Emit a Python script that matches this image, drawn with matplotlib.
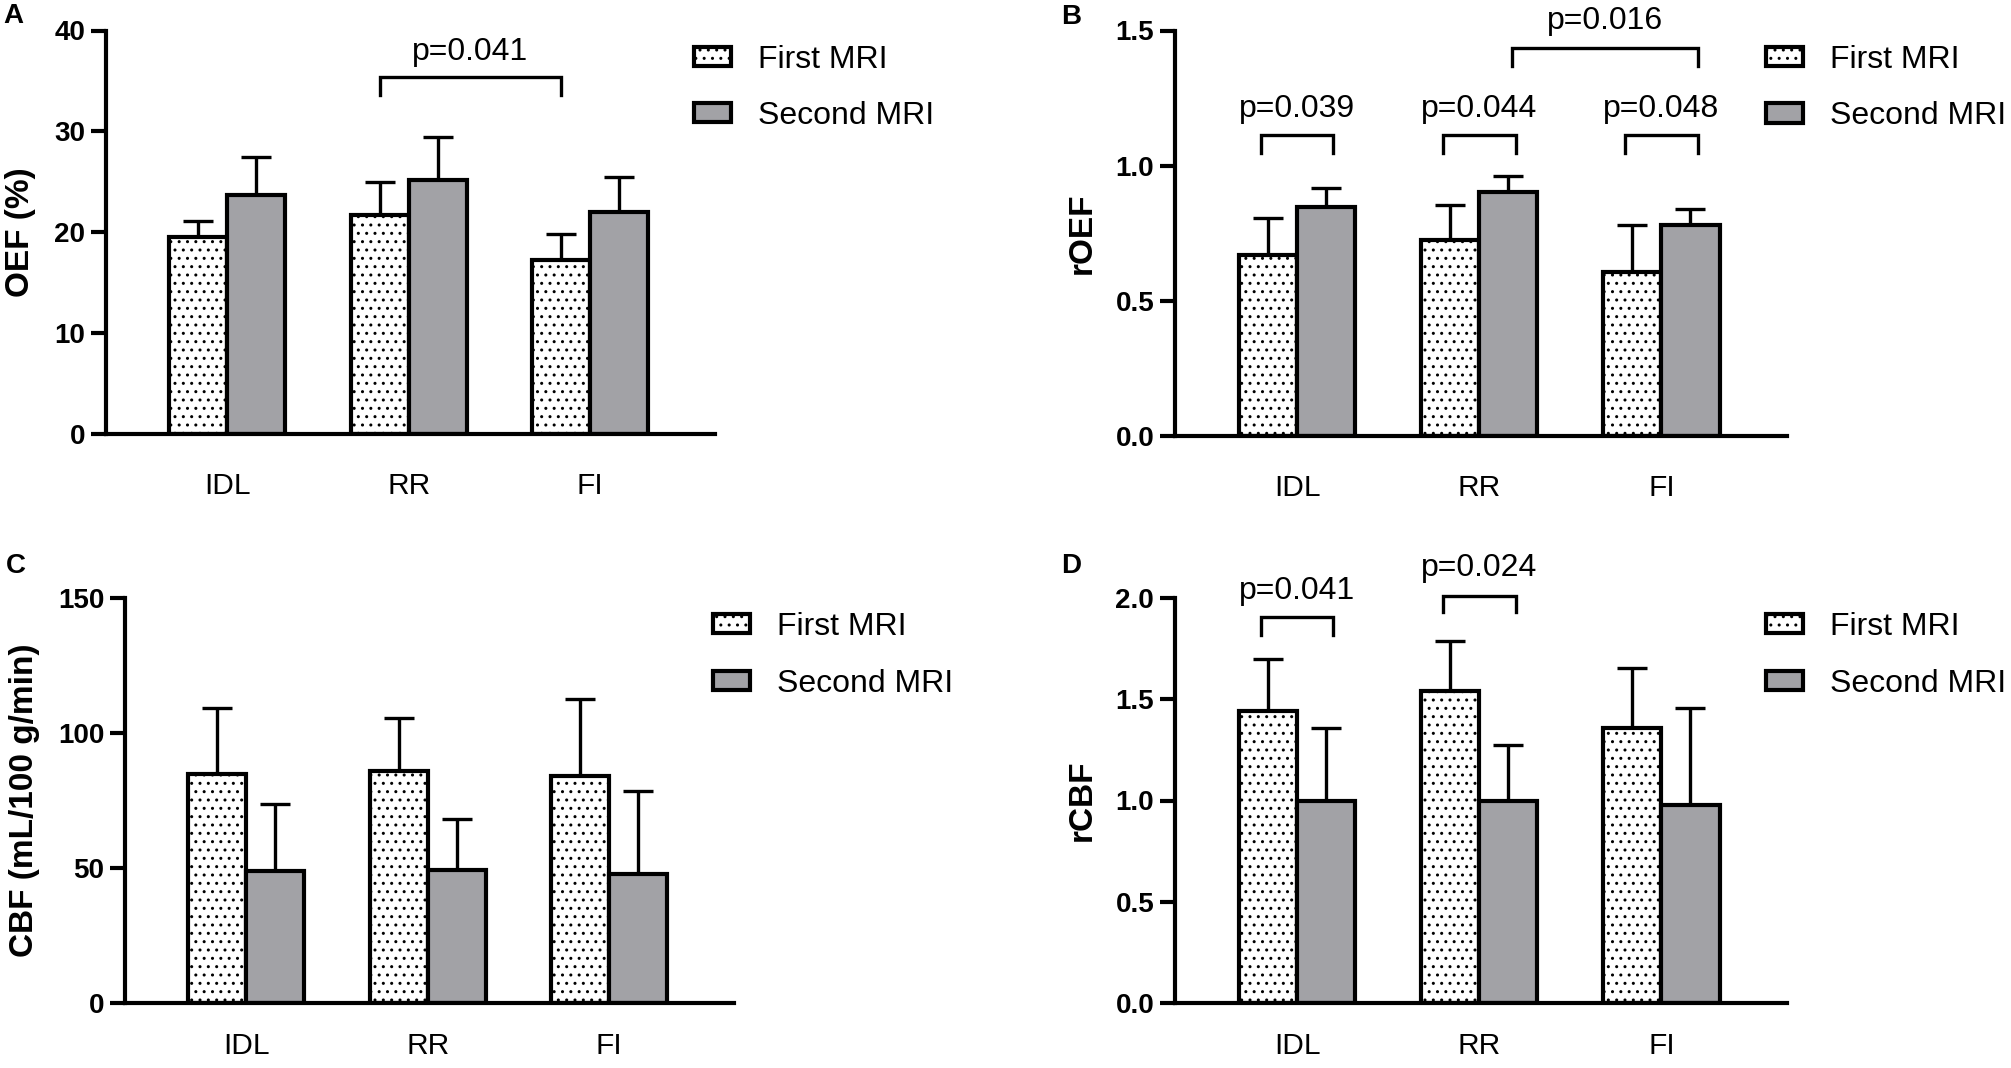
import numpy as np
import matplotlib
matplotlib.use('Agg')
import matplotlib.pyplot as plt
from matplotlib.patches import Patch

plt.rcParams.update({'font.family': 'Liberation Sans', 'hatch.linewidth': 1.0,
                     'hatch.color': 'black', 'figure.facecolor': 'white'})
GRAY = '#a2a2a6'
LW = 3.0

groups = ['IDL', 'RR', 'FI']
series = ['First MRI', 'Second MRI']

# A. OEF (%)
oef_first = [19.5, 21.7, 17.2]
oef_first_sd = [1.6, 3.3, 2.6]
oef_second = [23.7, 25.2, 22.0]
oef_second_sd = [3.8, 4.2, 3.5]

# B. rOEF
roef_first = [0.67, 0.725, 0.605]
roef_first_sd = [0.135, 0.13, 0.175]
roef_second = [0.847, 0.904, 0.782]
roef_second_sd = [0.07, 0.056, 0.058]

# C. CBF (mL/100 g/min)
cbf_first = [85.0, 86.0, 84.0]
cbf_first_sd = [24.1, 19.4, 28.5]
cbf_second = [49.0, 49.3, 47.8]
cbf_second_sd = [24.8, 18.7, 30.8]

# D. rCBF
rcbf_first = [1.44, 1.54, 1.356]
rcbf_first_sd = [0.26, 0.25, 0.30]
rcbf_second = [1.0, 1.0, 0.98]
rcbf_second_sd = [0.36, 0.275, 0.475]

W, H = 2011, 1068


def rect(left, right, top, bottom):
    return [left / W, 1 - bottom / H, (right - left) / W, (bottom - top) / H]


def draw_panel(ax, first, first_sd, second, second_sd, ymax, yticks, ylabel, xpad):
    x = np.arange(len(groups))
    w = 0.32
    for off, vals, sd, fc, hatch in [(-w / 2, first, first_sd, 'white', '..'),
                                     (w / 2, second, second_sd, GRAY, None)]:
        ax.errorbar(x + off, vals, yerr=[np.zeros(len(vals)), sd], fmt='none', ecolor='black',
                    elinewidth=2.4, capsize=11, capthick=2.4, zorder=1)
        ax.bar(x + off, vals, width=w, color=fc, edgecolor='black', linewidth=LW,
               hatch=hatch, zorder=2)
    ax.set_xlim(-0.67, 2.69)
    ax.set_ylim(0, ymax)
    ax.set_yticks(yticks)
    ax.set_xticks(x, groups)
    for s in ['top', 'right']:
        ax.spines[s].set_visible(False)
    for s in ['left', 'bottom']:
        ax.spines[s].set_linewidth(LW)
    ax.tick_params(axis='y', direction='out', length=11, width=LW, labelsize=20, pad=4)
    ax.tick_params(axis='x', length=0, pad=xpad, labelsize=21.5)
    for lbl in ax.get_yticklabels():
        lbl.set_fontweight('bold')
    ax.set_ylabel(ylabel, fontsize=24, fontweight='bold', labelpad=13)
    handles = [Patch(facecolor='white', edgecolor='black', hatch='..', linewidth=LW),
               Patch(facecolor=GRAY, edgecolor='black', linewidth=LW)]
    ax.legend(handles, series, loc='upper left', bbox_to_anchor=(0.9655, 0.965), frameon=False,
              fontsize=23, borderpad=0, borderaxespad=0, handlelength=1.15, handleheight=0.55,
              handletextpad=0.85, labelspacing=0.83)


def bracket(ax, x0, x1, y, leg, ty, label):
    ax.plot([x0, x0, x1, x1], [y - leg, y, y, y - leg], color='black', lw=2.4,
            clip_on=False, solid_joinstyle='miter')
    ax.text((x0 + x1) / 2, ty, label, ha='center', va='baseline', fontsize=23, clip_on=False)


fig = plt.figure(figsize=(W / 100, H / 100), dpi=100)
axA = fig.add_axes(rect(106, 715, 30.5, 434))
axB = fig.add_axes(rect(1175, 1787, 30.5, 436))
axC = fig.add_axes(rect(125, 734, 598, 1003))
axD = fig.add_axes(rect(1175, 1787, 598, 1003))

draw_panel(axA, oef_first, oef_first_sd, oef_second, oef_second_sd, 40, [0, 10, 20, 30, 40],
           'OEF (%)', 27)
draw_panel(axB, roef_first, roef_first_sd, roef_second, roef_second_sd, 1.5, [0.0, 0.5, 1.0, 1.5],
           'rOEF', 27)
draw_panel(axC, cbf_first, cbf_first_sd, cbf_second, cbf_second_sd, 150, [0, 50, 100, 150],
           'CBF (mL/100 g/min)', 21)
draw_panel(axD, rcbf_first, rcbf_first_sd, rcbf_second, rcbf_second_sd, 2.0, [0.0, 0.5, 1.0, 1.5, 2.0],
           'rCBF', 21)

# significance brackets
bracket(axA, 1 - 0.16, 2 - 0.16, 35.4, 1.8, 37.1, 'p=0.041')
for i, p in enumerate(['p=0.039', 'p=0.044', 'p=0.048']):
    bracket(axB, i - 0.2, i + 0.2, 1.115, 0.067, 1.181, p)
bracket(axB, 1.18, 2.2, 1.437, 0.07, 1.506, 'p=0.016')
bracket(axD, -0.2, 0.2, 1.907, 0.092, 1.995, 'p=0.041')
bracket(axD, 0.8, 1.2, 2.011, 0.082, 2.108, 'p=0.024')

for letter, px, py in [('A', 3, 3), ('B', 1061, 4), ('C', 6, 553), ('D', 1061, 553)]:
    fig.text(px / W, 1 - py / H, letter, fontsize=20, fontweight='bold', va='top')

plt.savefig('out.png', dpi=100)
plt.close()
